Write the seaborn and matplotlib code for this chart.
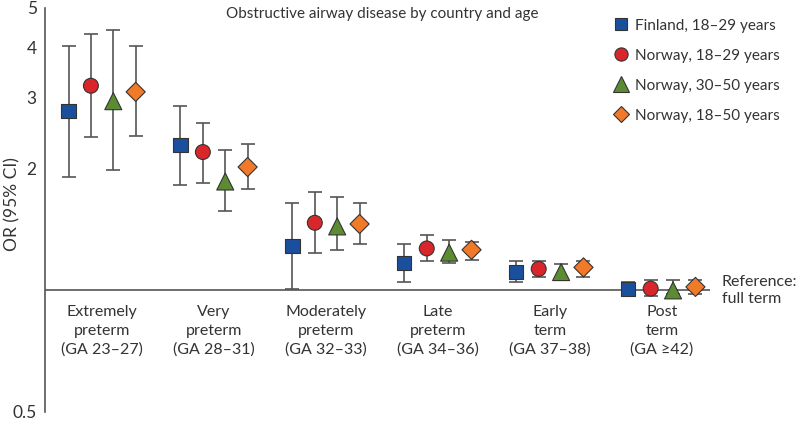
import numpy as np
import pandas as pd
import matplotlib
matplotlib.use("Agg")
import matplotlib.pyplot as plt
import seaborn as sns
from matplotlib.ticker import FixedLocator, NullLocator, FixedFormatter

categories = ["Extremely\npreterm\n(GA 23–27)", "Very\npreterm\n(GA 28–31)",
              "Moderately\npreterm\n(GA 32–33)", "Late\npreterm\n(GA 34–36)",
              "Early\nterm\n(GA 37–38)", "Post\nterm\n(GA ≥42)"]
series = ["Finland, 18–29 years", "Norway, 18–29 years",
          "Norway, 30–50 years", "Norway, 18–50 years"]

# OR, lower CI, upper CI per series (one value per category)
fin_1829_or = [2.78, 2.29, 1.29, 1.17, 1.11, 1.01]
fin_1829_lo = [1.91, 1.82, 1.01, 1.05, 1.05, 0.976]
fin_1829_hi = [4.02, 2.86, 1.65, 1.30, 1.18, 1.05]

nor_1829_or = [3.21, 2.20, 1.47, 1.27, 1.13, 1.01]
nor_1829_lo = [2.40, 1.84, 1.24, 1.18, 1.08, 0.967]
nor_1829_hi = [4.31, 2.60, 1.75, 1.37, 1.18, 1.06]

nor_3050_or = [2.94, 1.86, 1.44, 1.24, 1.11, 1.00]
nor_3050_lo = [1.99, 1.57, 1.26, 1.17, 1.07, 0.977]
nor_3050_hi = [4.41, 2.22, 1.70, 1.33, 1.16, 1.06]

nor_1850_or = [3.10, 2.02, 1.46, 1.26, 1.14, 1.02]
nor_1850_lo = [2.41, 1.78, 1.30, 1.19, 1.08, 0.98]
nor_1850_hi = [4.02, 2.30, 1.65, 1.32, 1.18, 1.06]

y_ticks = [0.5, 2, 3, 4, 5]
y_tick_labels = ["0.5", "2", "3", "4", "5"]

colors = ["#1a4f9e", "#d8262a", "#5b8c32", "#f07a2a"]
markers = ["s", "o", "^", "D"]
msizes = [105, 115, 150, 95]

ors = [fin_1829_or, nor_1829_or, nor_3050_or, nor_1850_or]
los = [fin_1829_lo, nor_1829_lo, nor_3050_lo, nor_1850_lo]
his = [fin_1829_hi, nor_1829_hi, nor_3050_hi, nor_1850_hi]
offsets = [-0.3, -0.1, 0.1, 0.3]

rows = []
for s, name in enumerate(series):
    for c in range(len(categories)):
        rows.append(dict(series=name, cat=c, x=c + offsets[s],
                         OR=ors[s][c], lo=los[s][c], hi=his[s][c]))
df = pd.DataFrame(rows)

sns.set_style("white")
plt.rcParams["font.family"] = ["Lato", "DejaVu Sans"]
text_col = "#333333"

fig = plt.figure(figsize=(7.98, 4.25), dpi=100)
ax = fig.add_axes([45/798, 13/425, (710-45)/798, (412-8)/425])

for s, name in enumerate(series):
    d = df[df.series == name]
    ax.errorbar(d.x, d.OR, yerr=[d.OR - d.lo, d.hi - d.OR], fmt="none",
                ecolor="#555555", elinewidth=1.2, capsize=5, capthick=1.2, zorder=2)

ax.axhline(1, color="#555555", lw=1.2, zorder=1)

sns.scatterplot(data=df, x="x", y="OR", hue="series", style="series",
                hue_order=series, style_order=series,
                palette=dict(zip(series, colors)), markers=dict(zip(series, markers)),
                size="series", sizes=dict(zip(series, msizes)),
                edgecolor="#333333", linewidth=0.8, ax=ax, zorder=3, legend=False)

ax.set_yscale("log")
ax.set_ylim(0.5, 5)
ax.set_xlim(-0.51, 5.43)
ax.yaxis.set_major_locator(FixedLocator(y_ticks))
ax.yaxis.set_major_formatter(FixedFormatter(y_tick_labels))
ax.yaxis.set_minor_locator(NullLocator())
ax.set_xticks([])
ax.set_xlabel("")
ax.set_ylabel("")
ax.tick_params(axis="y", length=4, width=1, color="#555555", labelsize=12.5,
               labelcolor=text_col, pad=2)
for sp in ["top", "right", "bottom"]:
    ax.spines[sp].set_visible(False)
ax.spines["left"].set_color("#555555")
ax.spines["left"].set_linewidth(1.2)

fig.text(12/798, 1 - 204/425, "OR (95% CI)", rotation=90, ha="center", va="center",
         fontsize=12.5, color=text_col)

for c, lab in enumerate(categories):
    ax.text(c, 0.922, lab, ha="center", va="top", fontsize=11.5,
            color=text_col, linespacing=1.45)

ax.text(1.018, 1.0, "Reference:\nfull term", transform=ax.get_yaxis_transform(),
        ha="left", va="center", fontsize=11.5, color=text_col, linespacing=1.3,
        clip_on=False)

fig.text(382/798, 1 - 14/425, "Obstructive airway disease by country and age",
         ha="center", va="center", fontsize=11, color=text_col)

# legend
handles = [plt.Line2D([], [], ls="none", marker=m, markersize=ms, markerfacecolor=c,
                      markeredgecolor="#333333", markeredgewidth=0.8)
           for m, c, ms in zip(markers, colors, [9, 9.5, 11, 8.5])]
leg = fig.legend(handles, series, loc="upper left", bbox_to_anchor=(604/798, 1 - 11/425),
                 frameon=False, fontsize=11, handletextpad=0.35, labelspacing=1.05,
                 handlelength=1.2, borderpad=0)
for t in leg.get_texts():
    t.set_color(text_col)

fig.savefig("out.png", dpi=100)
